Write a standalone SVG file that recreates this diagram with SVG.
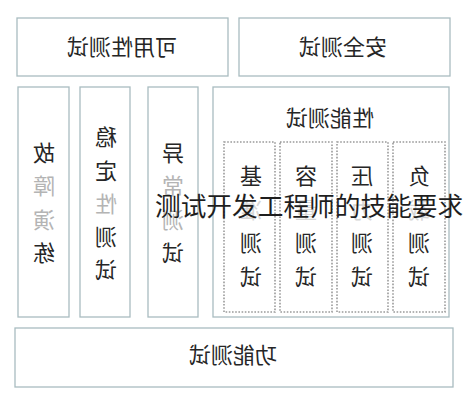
<svg xmlns="http://www.w3.org/2000/svg" width="466" height="400" viewBox="0 0 466 400">
<style>
.box{fill:#ffffff;stroke:#a9bcc0;stroke-width:1.3}
.dot{fill:none;stroke:#9a9a9a;stroke-width:1.6;stroke-dasharray:1.6 1.6}
.t{font-family:"Noto Sans CJK SC","Noto Sans",sans-serif;font-size:22px;fill:#262626;text-anchor:middle}
.f{fill:#b4b4b4}
.h{fill:#d6d6d6}
.ov{font-family:"Noto Sans CJK SC","Noto Sans",sans-serif;font-size:25.7px;fill:#1e1e1e}
</style>
<rect width="466" height="400" fill="#ffffff"/>
<g id="availability">
<rect class="box" x="17" y="18" width="211" height="58"/>
<text class="t" transform="scale(-1,1)" x="-122" y="55">可用性测试</text>
</g>
<g id="security">
<rect class="box" x="239" y="18" width="211" height="58"/>
<text class="t" transform="scale(-1,1)" x="-343" y="55">安全测试</text>
</g>
<g id="fault-drill">
<rect class="box" x="18" y="87" width="51" height="230"/>
<g class="t" transform="scale(-1,1)">
<text x="-44" y="161">故</text>
<text class="f" x="-44" y="194">障</text>
<text class="f" x="-44" y="228">演</text>
<text x="-44" y="261">练</text>
</g>
</g>
<g id="stability">
<rect class="box" x="80" y="87" width="50" height="230"/>
<g class="t" transform="scale(-1,1)">
<text x="-106" y="145">稳</text>
<text x="-106" y="179">定</text>
<text class="f" x="-106" y="212">性</text>
<text x="-106" y="245">测</text>
<text x="-106" y="278">试</text>
</g>
</g>
<g id="exception">
<rect class="box" x="148" y="87" width="50" height="230"/>
<g class="t" transform="scale(-1,1)">
<text x="-173" y="161">异</text>
<text class="f" x="-173" y="194">常</text>
<text class="f" x="-173" y="228">测</text>
<text x="-173" y="261">试</text>
</g>
</g>
<g id="performance">
<rect class="box" x="213" y="87" width="236" height="230"/>
<text class="t" transform="scale(-1,1)" x="-330" y="126">性能测试</text>
</g>
<g id="benchmark">
<rect class="dot" x="224" y="142" width="51" height="170"/>
<g class="t" transform="scale(-1,1)">
<text x="-251" y="184">基</text>
<text class="h" x="-251" y="218">准</text>
<text x="-251" y="251">测</text>
<text x="-251" y="285">试</text>
</g>
</g>
<g id="capacity">
<rect class="dot" x="280" y="142" width="52" height="170"/>
<g class="t" transform="scale(-1,1)">
<text x="-306" y="184">容</text>
<text class="h" x="-306" y="218">量</text>
<text x="-306" y="251">测</text>
<text x="-306" y="285">试</text>
</g>
</g>
<g id="stress">
<rect class="dot" x="337" y="142" width="51" height="170"/>
<g class="t" transform="scale(-1,1)">
<text x="-362" y="184">压</text>
<text class="h" x="-362" y="218">力</text>
<text x="-362" y="251">测</text>
<text x="-362" y="285">试</text>
</g>
</g>
<g id="load">
<rect class="dot" x="393" y="142" width="52" height="170"/>
<g class="t" transform="scale(-1,1)">
<text x="-419" y="184">负</text>
<text class="h" x="-419" y="218">载</text>
<text x="-419" y="251">测</text>
<text x="-419" y="285">试</text>
</g>
</g>
<g id="functional">
<rect class="box" x="15" y="328" width="438" height="59"/>
<text class="t" transform="scale(-1,1)" x="-233" y="363">功能测试</text>
</g>
<g id="connectors"></g>
<g id="caption">
<text class="ov" x="155" y="216">测试开发工程师的技能要求</text>
</g>
</svg>
